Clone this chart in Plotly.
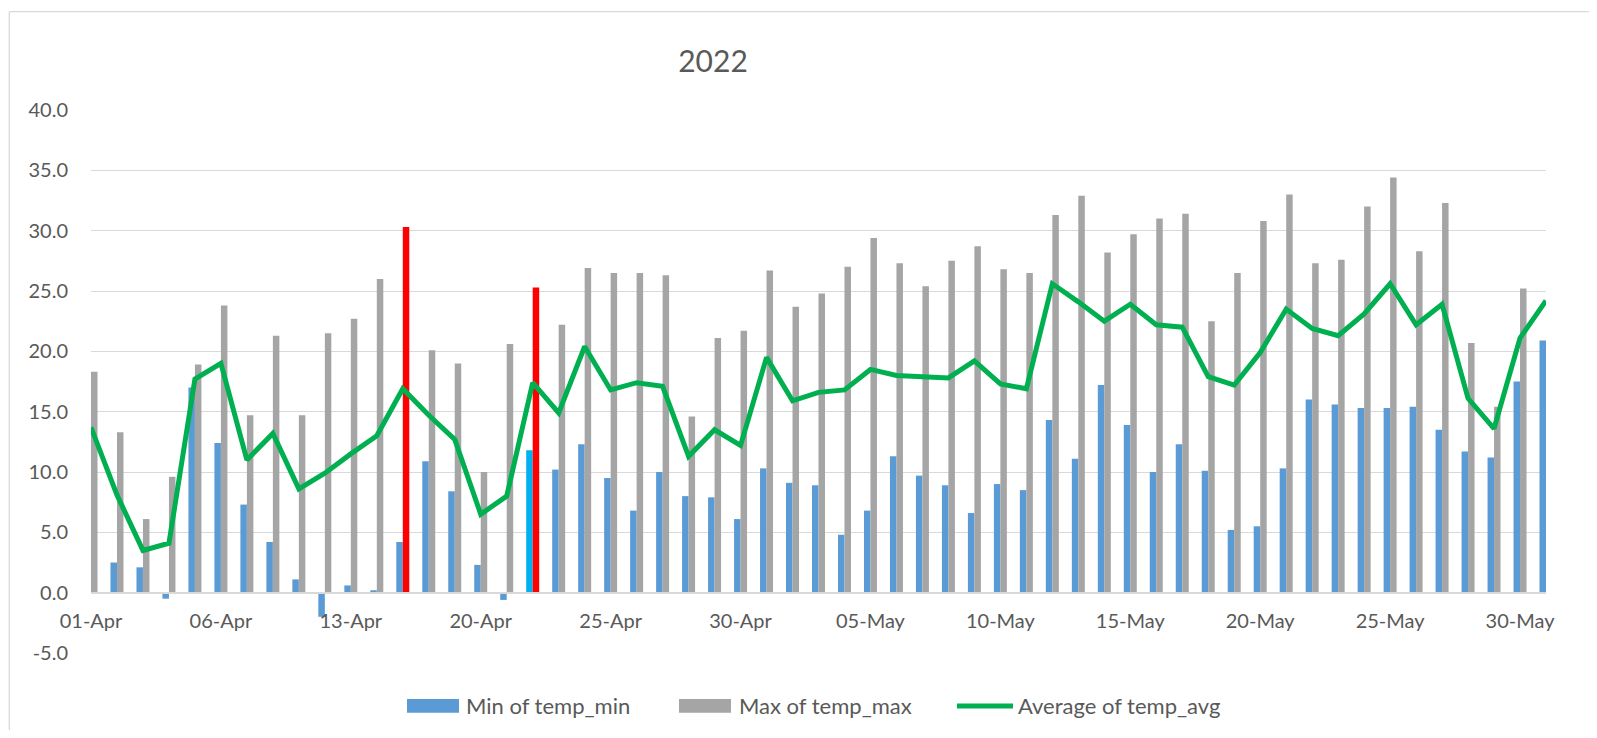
import plotly.graph_objects as go

# ---------------- data ----------------
dates = [
    "01-Apr", "02-Apr", "03-Apr", "04-Apr", "05-Apr", "06-Apr", "07-Apr", "08-Apr", "09-Apr", "10-Apr",
    "13-Apr", "14-Apr", "15-Apr", "16-Apr", "17-Apr", "20-Apr", "21-Apr", "22-Apr", "23-Apr", "24-Apr",
    "25-Apr", "26-Apr", "27-Apr", "28-Apr", "29-Apr", "30-Apr", "01-May", "02-May", "03-May", "04-May",
    "05-May", "06-May", "07-May", "08-May", "09-May", "10-May", "11-May", "12-May", "13-May", "14-May",
    "15-May", "16-May", "17-May", "18-May", "19-May", "20-May", "21-May", "22-May", "23-May", "24-May",
    "25-May", "26-May", "27-May", "28-May", "29-May", "30-May", "31-May",
]
temp_min = [
    9.2, 2.5, 2.1, -0.5, 17.0, 12.4, 7.3, 4.2, 1.1, -2.0,
    0.6, 0.2, 4.2, 10.9, 8.4, 2.3, -0.6, 11.8, 10.2, 12.3,
    9.5, 6.8, 10.0, 8.0, 7.9, 6.1, 10.3, 9.1, 8.9, 4.8,
    6.8, 11.3, 9.7, 8.9, 6.6, 9.0, 8.5, 14.3, 11.1, 17.2,
    13.9, 10.0, 12.3, 10.1, 5.2, 5.5, 10.3, 16.0, 15.6, 15.3,
    15.3, 15.4, 13.5, 11.7, 11.2, 17.5, 20.9,
]
temp_max = [
    18.3, 13.3, 6.1, 9.6, 18.9, 23.8, 14.7, 21.3, 14.7, 21.5,
    22.7, 26.0, 30.3, 20.1, 19.0, 10.0, 20.6, 25.3, 22.2, 26.9,
    26.5, 26.5, 26.3, 14.6, 21.1, 21.7, 26.7, 23.7, 24.8, 27.0,
    29.4, 27.3, 25.4, 27.5, 28.7, 26.8, 26.5, 31.3, 32.9, 28.2,
    29.7, 31.0, 31.4, 22.5, 26.5, 30.8, 33.0, 27.3, 27.6, 32.0,
    34.4, 28.3, 32.3, 20.7, 15.4, 25.2, 25.8,
]
temp_avg = [
    13.7, 8.1, 3.5, 4.1, 17.7, 19.0, 11.0, 13.2, 8.6, 9.9,
    11.5, 13.0, 16.9, 14.7, 12.7, 6.5, 8.0, 17.4, 14.9, 20.4,
    16.8, 17.4, 17.1, 11.3, 13.5, 12.2, 19.5, 15.9, 16.6, 16.8,
    18.5, 18.0, 17.9, 17.8, 19.2, 17.3, 16.9, 25.6, 24.1, 22.5,
    23.9, 22.2, 22.0, 17.9, 17.2, 19.9, 23.5, 21.9, 21.3, 23.1,
    25.6, 22.2, 23.9, 16.1, 13.6, 21.1, 24.2,
]
highlight_max = ["15-Apr", "22-Apr"]   # max bars shown in red
highlight_min = ["22-Apr"]             # min bar shown in bright blue

y_ticks = [-5, 0, 5, 10, 15, 20, 25, 30, 35, 40]
y_tick_labels = ["-5.0", "0.0", "5.0", "10.0", "15.0", "20.0", "25.0", "30.0", "35.0", "40.0"]
x_tick_labels = dates[::5]

series_names = ["Min of temp_min", "Max of temp_max", "Average of temp_avg"]
title_text = "2022"

# ---------------- styling ----------------
BLUE = "#5B9BD5"
CYAN = "#00B0F0"
GRAY = "#A5A5A5"
RED = "#FF0000"
GREEN = "#00B050"
GRID = "#D9D9D9"
TXT = "#595959"
FONT = "Lato"

W, H = 1581, 722
L, R, T, B = 83, 43, 102, 77
PW, PH = W - L - R, H - T - B


def px(x):
    return (x - L) / PW


def py(y):
    return 1 - (y - T) / PH


min_colors = [CYAN if d in highlight_min else BLUE for d in dates]
max_colors = [RED if d in highlight_max else GRAY for d in dates]

fig = go.Figure()
fig.add_trace(go.Bar(x=dates, y=temp_min, name=series_names[0],
                     marker=dict(color=min_colors, line=dict(width=0))))
fig.add_trace(go.Bar(x=dates, y=temp_max, name=series_names[1],
                     marker=dict(color=max_colors, line=dict(width=0))))
fig.add_trace(go.Scatter(x=dates, y=temp_avg, name=series_names[2], mode="lines",
                         line=dict(color=GREEN, width=5)))

ymin, ymax = y_ticks[0], y_ticks[-1]

shapes = [
    # chart border
    dict(type="line", xref="paper", yref="paper", x0=px(1.3), x1=px(W + 5), y0=py(3.7), y1=py(3.7),
         line=dict(color=GRID, width=1.3)),
    dict(type="line", xref="paper", yref="paper", x0=px(1.3), x1=px(1.3), y0=py(3.7), y1=py(H + 5),
         line=dict(color=GRID, width=1.3)),
    # legend swatches
    dict(type="rect", xref="paper", yref="paper", x0=px(399), x1=px(451), y0=py(691), y1=py(704.7),
         fillcolor=BLUE, line=dict(width=0)),
    dict(type="rect", xref="paper", yref="paper", x0=px(671), x1=px(723), y0=py(691), y1=py(704.7),
         fillcolor=GRAY, line=dict(width=0)),
    dict(type="line", xref="paper", yref="paper", x0=px(949), x1=px(1005), y0=py(698), y1=py(698),
         line=dict(color=GREEN, width=5)),
]
annotations = [
    dict(xref="paper", yref="paper", x=px(456), y=py(697), text=series_names[0], showarrow=False,
         xanchor="left", yanchor="middle", font=dict(family=FONT, size=22, color=TXT)),
    dict(xref="paper", yref="paper", x=px(729), y=py(697), text=series_names[1], showarrow=False,
         xanchor="left", yanchor="middle", font=dict(family=FONT, size=22, color=TXT)),
    dict(xref="paper", yref="paper", x=px(1008), y=py(697), text=series_names[2], showarrow=False,
         xanchor="left", yanchor="middle", font=dict(family=FONT, size=22, color=TXT)),
]

fig.update_layout(
    width=W, height=H,
    margin=dict(l=L, r=R, t=T, b=B, pad=0),
    paper_bgcolor="white", plot_bgcolor="white",
    font=dict(family=FONT, color=TXT, size=20),
    title=dict(text=title_text, x=705 / W, xref="container", xanchor="center",
               y=1 - 53 / H, yref="container", yanchor="middle",
               font=dict(family=FONT, size=30, color=TXT)),
    barmode="group", bargap=0.5, bargroupgap=0,
    showlegend=False,
    shapes=shapes, annotations=annotations,
    xaxis=dict(type="category", range=[0, len(dates) - 1], anchor="free",
               position=(0 - ymin) / (ymax - ymin),
               showgrid=False, showline=True, linecolor=GRID, linewidth=1.5,
               ticks="", tickvals=x_tick_labels, ticktext=x_tick_labels,
               ticklabelstandoff=11, tickfont=dict(family=FONT, size=20, color=TXT),
               zeroline=False),
    yaxis=dict(range=[ymin, ymax], tickvals=y_ticks, ticktext=y_tick_labels,
               showgrid=True, gridcolor=GRID, gridwidth=1.3, zeroline=False, showline=False,
               ticks="", ticklabelstandoff=22, tickfont=dict(family=FONT, size=20, color=TXT)),
)

fig.write_html("out.html")
